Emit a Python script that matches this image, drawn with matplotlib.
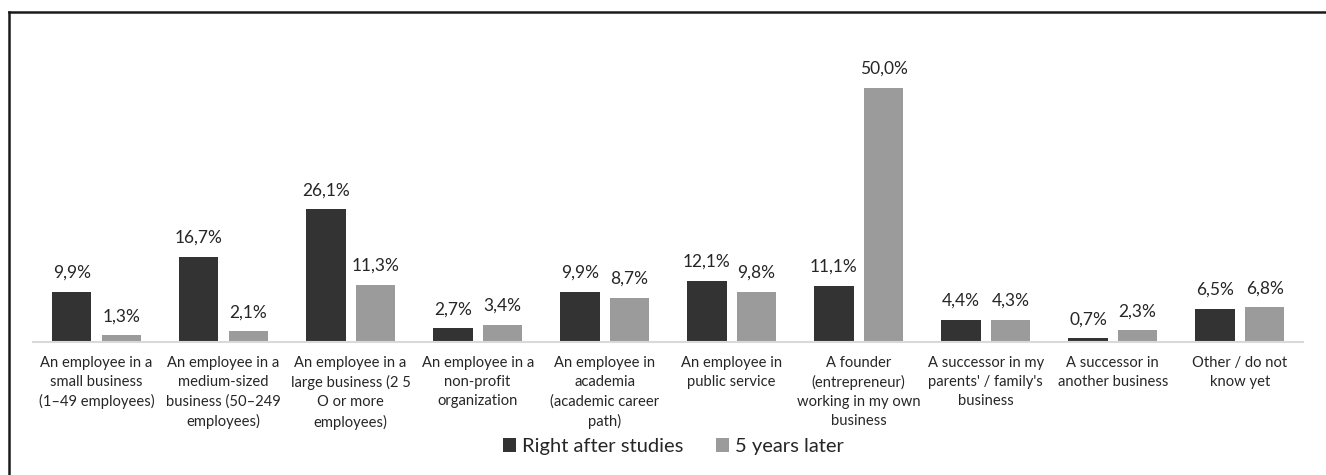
import numpy as np
from matplotlib import pyplot as plt
from matplotlib.lines import Line2D

categories = [
    "An employee in a\nsmall business\n(1\u201349 employees)",
    "An employee in a\nmedium-sized\nbusiness (50\u2013249\nemployees)",
    "An employee in a\nlarge business (2 5\nO or more\nemployees)",
    "An employee in a\nnon-profit\norganization",
    "An employee in\nacademia\n(academic career\npath)",
    "An employee in\npublic service",
    "A founder\n(entrepreneur)\nworking in my own\nbusiness",
    "A successor in my\nparents' / family's\nbusiness",
    "A successor in\nanother business",
    "Other / do not\nknow yet",
]
right_after = [9.9, 16.7, 26.1, 2.7, 9.9, 12.1, 11.1, 4.4, 0.7, 6.5]
five_years = [1.3, 2.1, 11.3, 3.4, 8.7, 9.8, 50.0, 4.3, 2.3, 6.8]
series_names = ["Right after studies", "5 years later"]

plt.rcParams['font.family'] = ['Lato', 'DejaVu Sans']

fig = plt.figure(figsize=(13.26, 4.75), dpi=100)
ax = fig.add_axes([0.0249, 0.28, 0.958, 0.588])

x = np.arange(len(categories))
w = 0.31
gap = 0.04
b1 = ax.bar(x - w / 2 - gap, right_after, w, color="#333333", label=series_names[0])
b2 = ax.bar(x + w / 2 + gap, five_years, w, color="#9b9b9b", label=series_names[1])

for bars, vals in [(b1, right_after), (b2, five_years)]:
    for r, v in zip(bars, vals):
        ax.annotate(f"{v:.1f}%".replace(".", ","),
                    (r.get_x() + r.get_width() / 2, r.get_height()),
                    xytext=(0, 8), textcoords="offset points",
                    ha="center", va="bottom", fontsize=12.5, color="#262626")

ax.set_xlim(-0.5, len(categories) - 0.5)
ax.set_ylim(0, 55)
ax.set_yticks([])
ax.set_xticks(x)
ax.set_xticklabels(categories, fontsize=10.6, color="#262626", linespacing=1.45)
ax.tick_params(axis="x", length=0, pad=10)
for s in ["top", "right", "left"]:
    ax.spines[s].set_visible(False)
ax.spines["bottom"].set_color("#d9d9d9")
ax.spines["bottom"].set_linewidth(1.5)

fig.legend(loc="center", bbox_to_anchor=(0.508, 0.06), ncol=2, frameon=False,
           fontsize=14.5, handlelength=0.65, handleheight=0.65, handletextpad=0.3,
           columnspacing=1.6, labelcolor="#262626")

# outer frame (left and top edges)
fig.add_artist(Line2D([9 / 1326, 9 / 1326], [0, 1 - 12 / 475], color="#1a1a1a", lw=1.8,
                      transform=fig.transFigure))
fig.add_artist(Line2D([9 / 1326, 1], [1 - 12 / 475, 1 - 12 / 475], color="#1a1a1a", lw=1.8,
                      transform=fig.transFigure))

fig.savefig("out.png", dpi=100)
